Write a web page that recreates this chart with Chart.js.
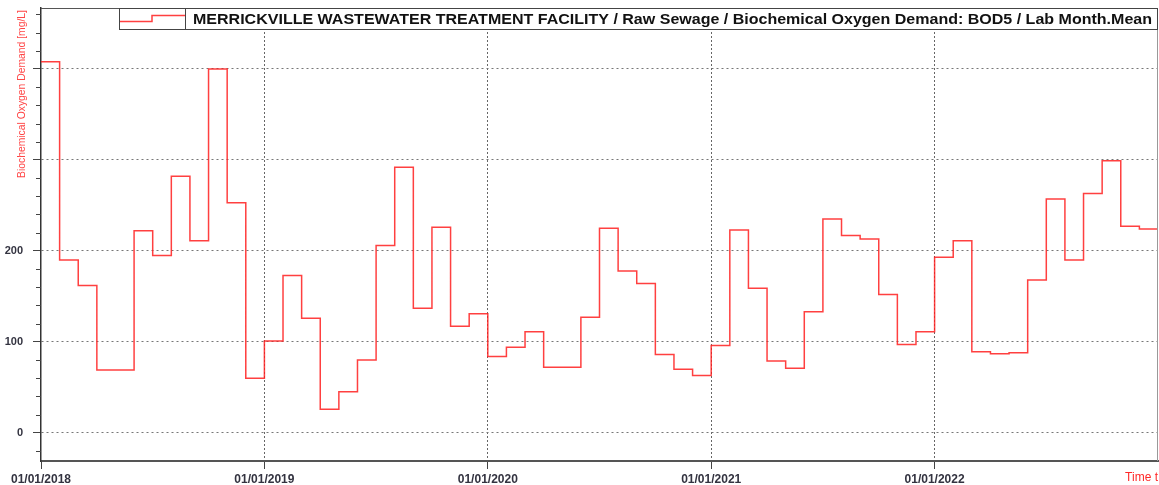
<!DOCTYPE html>
<html>
<head>
<meta charset="utf-8">
<script src="https://cdn.jsdelivr.net/npm/chart.js@4.4.1/dist/chart.umd.min.js"></script>
<style>
html,body{margin:0;padding:0;background:#fff;overflow:hidden;}
#c{display:block;}
</style>
</head>
<body>
<canvas id="c" width="1159" height="485"></canvas>
<script>
// ---- data ----
const months = [
  '2018-01','2018-02','2018-03','2018-04','2018-05','2018-06','2018-07','2018-08','2018-09','2018-10','2018-11','2018-12',
  '2019-01','2019-02','2019-03','2019-04','2019-05','2019-06','2019-07','2019-08','2019-09','2019-10','2019-11','2019-12',
  '2020-01','2020-02','2020-03','2020-04','2020-05','2020-06','2020-07','2020-08','2020-09','2020-10','2020-11','2020-12',
  '2021-01','2021-02','2021-03','2021-04','2021-05','2021-06','2021-07','2021-08','2021-09','2021-10','2021-11','2021-12',
  '2022-01','2022-02','2022-03','2022-04','2022-05','2022-06','2022-07','2022-08','2022-09','2022-10','2022-11','2022-12'
];
const bod5 = [
  408, 190, 162, 69, 69, 222, 195, 282, 211, 400, 253, 60,
  101, 173, 126, 26, 45, 80, 206, 292, 137, 226, 117, 131,
  84, 94, 111, 72, 72, 127, 225, 178, 164, 86, 70, 63,
  96, 223, 159, 79, 71, 133, 235, 217, 213, 152, 97, 111,
  193, 211, 89, 87, 88, 168, 257, 190, 263, 299, 227, 224
];
const yearTickLabels = ['01/01/2018','01/01/2019','01/01/2020','01/01/2021','01/01/2022'];
const yTickLabels = {0:'0', 100:'100', 200:'200'};
const seriesName = 'MERRICKVILLE WASTEWATER TREATMENT FACILITY / Raw Sewage / Biochemical Oxygen Demand: BOD5 / Lab Month.Mean';
const yTitle = 'Biochemical Oxygen Demand [mg/L]';
const xTitle = 'Time t';

// build step points: each month value holds over its month
const stepPoints = months.map((m, i) => ({x: i, y: bod5[i]}));
stepPoints.push({x: months.length, y: bod5[bod5.length - 1]});

const RED = 'rgba(255,30,30,0.85)';
const FONT = "'Liberation Sans', Arial, sans-serif";

const decor = {
  id: 'decor',
  afterDraw(chart) {
    const {ctx, chartArea: a, scales} = chart;
    const y = scales.y;
    ctx.save();
    // top and right frame
    ctx.lineWidth = 1;
    ctx.strokeStyle = '#555';
    ctx.beginPath(); ctx.moveTo(a.left, a.top + 0.5); ctx.lineTo(a.right, a.top + 0.5); ctx.stroke();
    ctx.strokeStyle = '#999';
    ctx.beginPath(); ctx.moveTo(a.right - 0.5, a.top); ctx.lineTo(a.right - 0.5, a.bottom); ctx.stroke();
    // minor y ticks
    ctx.strokeStyle = '#444';
    y.ticks.forEach(t => {
      if (t.value % 100 !== 0) {
        const py = Math.round(y.getPixelForValue(t.value)) + 0.5;
        ctx.beginPath(); ctx.moveTo(a.left - 5, py); ctx.lineTo(a.left, py); ctx.stroke();
      }
    });
    // legend box
    const bx = 119, by = a.top, bw = a.right - bx, bh = 21, sw = 66;
    ctx.fillStyle = '#fff';
    ctx.fillRect(bx, by, bw, bh);
    ctx.strokeStyle = '#444';
    ctx.strokeRect(bx + 0.5, by + 0.5, bw - 1, bh);
    ctx.beginPath(); ctx.moveTo(bx + sw + 0.5, by); ctx.lineTo(bx + sw + 0.5, by + bh); ctx.stroke();
    ctx.strokeStyle = RED; ctx.lineWidth = 1.5;
    ctx.beginPath();
    ctx.moveTo(bx + 1, by + 13.5); ctx.lineTo(bx + 33, by + 13.5);
    ctx.lineTo(bx + 33, by + 7.5); ctx.lineTo(bx + sw, by + 7.5);
    ctx.stroke();
    // legend text, fitted to width
    ctx.fillStyle = '#111';
    ctx.font = 'bold 15px ' + FONT;
    ctx.textBaseline = 'alphabetic';
    ctx.textAlign = 'left';
    const tw = ctx.measureText(seriesName).width;
    const targetW = 959;
    ctx.save();
    ctx.translate(bx + sw + 8, by + 15.5);
    ctx.scale(targetW / tw, 1);
    ctx.fillText(seriesName, 0, 0);
    ctx.restore();
    // y title
    ctx.save();
    ctx.fillStyle = 'rgb(255,70,70)';
    ctx.font = '11px ' + FONT;
    const yw = ctx.measureText(yTitle).width;
    ctx.translate(21.5, 178);
    ctx.rotate(-Math.PI / 2);
    ctx.scale(168 / yw, 1);
    ctx.textAlign = 'left';
    ctx.textBaseline = 'middle';
    ctx.fillText(yTitle, 0, 0);
    ctx.restore();
    // x title
    ctx.fillStyle = 'rgb(255,40,40)';
    ctx.font = '12px ' + FONT;
    ctx.textAlign = 'right';
    ctx.textBaseline = 'middle';
    ctx.fillText(xTitle, 1158, 478);
    ctx.restore();
  }
};

new Chart(document.getElementById('c'), {
  type: 'line',
  data: {
    datasets: [{
      label: seriesName,
      data: stepPoints,
      stepped: true,
      borderColor: RED,
      borderWidth: 1.5,
      pointRadius: 0,
      fill: false
    }]
  },
  options: {
    responsive: false,
    devicePixelRatio: 1,
    animation: false,
    events: [],
    layout: {padding: {top: 8, right: 1, left: 0, bottom: 0}},
    plugins: {legend: {display: false}, tooltip: {enabled: false}, title: {display: false}},
    scales: {
      x: {
        type: 'linear',
        min: 0,
        max: months.length,
        afterFit: s => { s.height = 24; s.paddingLeft = 0; s.paddingRight = 0; },
        ticks: {
          stepSize: 12,
          autoSkip: false,
          maxRotation: 0,
          includeBounds: false,
          padding: 3,
          color: '#333340',
          font: {family: FONT, size: 12, weight: 'bold'},
          callback: v => yearTickLabels[v / 12] || ''
        },
        grid: {
          color: c => (c.tick && c.tick.value > 0 && c.tick.value < months.length) ? '#666' : 'transparent',
          lineWidth: 1,
          drawTicks: true,
          tickLength: 8,
          tickColor: c => (c.tick && c.tick.value < months.length) ? '#444' : 'transparent'
        },
        border: {display: true, color: '#555', width: 2, dash: [2, 2]}
      },
      y: {
        type: 'linear',
        min: -31,
        max: 467,
        afterFit: s => { s.width = 41; s.paddingTop = 0; s.paddingBottom = 0; },
        ticks: {
          stepSize: 20,
          includeBounds: false,
          autoSkip: false,
          padding: 10,
          color: '#333340',
          font: {family: FONT, size: 11, weight: 'bold'},
          callback: v => (yTickLabels[v] !== undefined ? yTickLabels[v] : '')
        },
        grid: {
          color: c => (c.tick && c.tick.value % 100 === 0) ? '#777' : 'transparent',
          lineWidth: 1,
          drawTicks: true,
          tickLength: 8,
          tickColor: c => (c.tick && c.tick.value % 100 === 0) ? '#444' : 'transparent'
        },
        border: {display: true, color: '#333', width: 1.5, dash: [2, 3]}
      }
    }
  },
  plugins: [decor]
});
</script>
</body>
</html>
